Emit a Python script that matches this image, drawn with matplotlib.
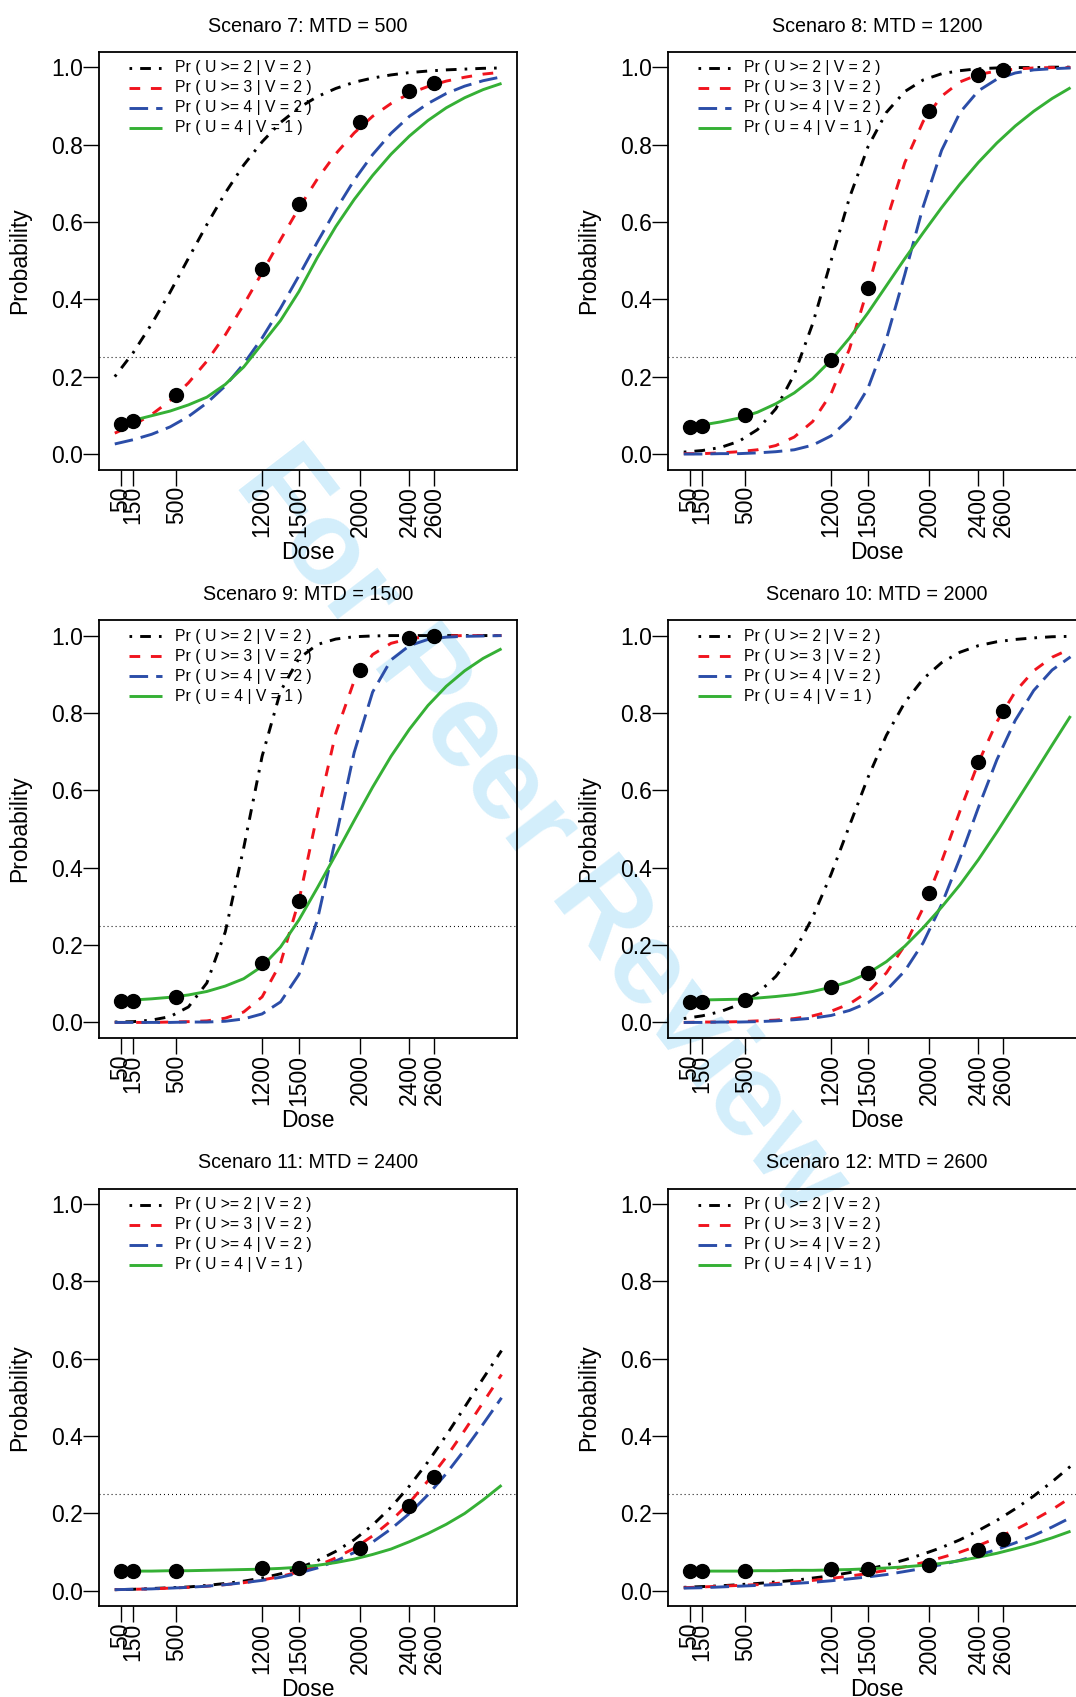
import matplotlib
matplotlib.use("Agg")
import matplotlib.pyplot as plt

plt.rcParams['font.family'] = ['Liberation Sans', 'DejaVu Sans']
plt.rcParams['lines.scale_dashes'] = False

# dose grid the curves were read on
dose_grid = [0, 150, 300, 450, 600, 750, 900, 1050, 1200, 1350, 1500,
             1650, 1800, 1950, 2100, 2250, 2400, 2550, 2700, 2850, 3000, 3150]
doses = [50, 150, 500, 1200, 1500, 2000, 2400, 2600]
dose_labels = ['50', '150', '500', '1200', '1500', '2000', '2400', '2600']

titles = ['Scenaro 7: MTD = 500', 'Scenaro 8: MTD = 1200',
          'Scenaro 9: MTD = 1500', 'Scenaro 10: MTD = 2000',
          'Scenaro 11: MTD = 2400', 'Scenaro 12: MTD = 2600']

legend_labels = ['Pr ( U >= 2 | V = 2 )', 'Pr ( U >= 3 | V = 2 )',
                 'Pr ( U >= 4 | V = 2 )', 'Pr ( U = 4 | V = 1 )']

# scenario 7
s7_u2 = [0.200, 0.262, 0.336, 0.418, 0.506, 0.593, 0.675, 0.747, 0.807, 0.857, 0.895,
         0.924, 0.945, 0.961, 0.972, 0.980, 0.986, 0.990, 0.993, 0.995, 0.997, 0.998]
s7_u3 = [0.054, 0.075, 0.102, 0.138, 0.184, 0.240, 0.308, 0.386, 0.469, 0.554, 0.636,
         0.711, 0.776, 0.830, 0.873, 0.906, 0.932, 0.950, 0.964, 0.974, 0.982, 0.987]
s7_u4 = [0.026, 0.037, 0.051, 0.070, 0.097, 0.132, 0.176, 0.233, 0.300, 0.377, 0.461,
         0.548, 0.631, 0.708, 0.774, 0.829, 0.873, 0.906, 0.932, 0.951, 0.965, 0.975]
s7_v1 = [0.072, 0.087, 0.099, 0.111, 0.127, 0.147, 0.180, 0.225, 0.285, 0.345, 0.420,
         0.508, 0.588, 0.658, 0.720, 0.775, 0.822, 0.862, 0.895, 0.921, 0.942, 0.958]
s7_pts = [0.078, 0.086, 0.152, 0.478, 0.647, 0.857, 0.939, 0.960]

# scenario 8
s8_u2 = [0.005, 0.009, 0.017, 0.033, 0.063, 0.117, 0.206, 0.337, 0.500, 0.663, 0.794,
         0.883, 0.937, 0.967, 0.983, 0.991, 0.996, 0.998, 0.999, 0.999, 1.000, 1.000]
s8_u3 = [0.001, 0.001, 0.003, 0.006, 0.011, 0.022, 0.044, 0.084, 0.156, 0.272, 0.429,
         0.602, 0.753, 0.860, 0.925, 0.962, 0.981, 0.990, 0.995, 0.998, 0.999, 0.999]
s8_u4 = [0.000, 0.000, 0.001, 0.001, 0.003, 0.006, 0.011, 0.023, 0.047, 0.091, 0.170,
         0.297, 0.464, 0.640, 0.785, 0.883, 0.939, 0.969, 0.985, 0.993, 0.996, 0.998]
s8_v1 = [0.070, 0.075, 0.083, 0.093, 0.108, 0.130, 0.158, 0.195, 0.243, 0.300, 0.365,
         0.435, 0.505, 0.572, 0.637, 0.698, 0.754, 0.804, 0.848, 0.886, 0.919, 0.947]
s8_pts = [0.069, 0.073, 0.101, 0.242, 0.429, 0.886, 0.980, 0.993]

# scenario 9
s9_u2 = [0.001, 0.002, 0.006, 0.015, 0.040, 0.102, 0.234, 0.451, 0.688, 0.856, 0.941,
         0.977, 0.991, 0.997, 0.999, 1.000, 1.000, 1.000, 1.000, 1.000, 1.000, 1.000]
s9_u3 = [0.000, 0.000, 0.000, 0.001, 0.002, 0.004, 0.011, 0.027, 0.066, 0.153, 0.315,
         0.539, 0.748, 0.883, 0.951, 0.980, 0.992, 0.997, 0.999, 1.000, 1.000, 1.000]
s9_u4 = [0.000, 0.000, 0.000, 0.000, 0.001, 0.001, 0.003, 0.009, 0.022, 0.053, 0.124,
         0.265, 0.477, 0.698, 0.854, 0.937, 0.974, 0.990, 0.996, 0.998, 0.999, 1.000]
s9_v1 = [0.056, 0.058, 0.061, 0.065, 0.071, 0.080, 0.094, 0.113, 0.145, 0.195, 0.265,
         0.348, 0.434, 0.522, 0.608, 0.688, 0.758, 0.819, 0.869, 0.909, 0.941, 0.966]
s9_pts = [0.056, 0.056, 0.067, 0.154, 0.315, 0.912, 0.993, 1.000]

# scenario 10
s10_u2 = [0.010, 0.017, 0.028, 0.046, 0.075, 0.119, 0.183, 0.272, 0.383, 0.509, 0.633,
          0.742, 0.827, 0.888, 0.930, 0.957, 0.974, 0.984, 0.990, 0.994, 0.997, 0.998]
s10_u3 = [0.000, 0.001, 0.001, 0.002, 0.004, 0.006, 0.010, 0.017, 0.029, 0.048, 0.079,
          0.128, 0.199, 0.296, 0.416, 0.547, 0.672, 0.777, 0.855, 0.909, 0.944, 0.966]
s10_u4 = [0.000, 0.000, 0.001, 0.001, 0.002, 0.004, 0.007, 0.011, 0.018, 0.031, 0.051,
          0.083, 0.133, 0.206, 0.305, 0.425, 0.556, 0.679, 0.781, 0.858, 0.911, 0.945]
s10_v1 = [0.057, 0.058, 0.059, 0.060, 0.063, 0.067, 0.072, 0.080, 0.091, 0.106, 0.127,
          0.157, 0.197, 0.245, 0.298, 0.356, 0.421, 0.492, 0.566, 0.641, 0.717, 0.792]
s10_pts = [0.053, 0.053, 0.059, 0.091, 0.127, 0.334, 0.672, 0.806]

# scenario 11
s11_u2 = [0.003, 0.004, 0.006, 0.008, 0.010, 0.014, 0.019, 0.025, 0.033, 0.044, 0.059,
          0.078, 0.102, 0.132, 0.170, 0.216, 0.271, 0.333, 0.402, 0.475, 0.549, 0.621]
s11_u3 = [0.003, 0.004, 0.005, 0.007, 0.009, 0.012, 0.016, 0.021, 0.028, 0.037, 0.049,
          0.065, 0.085, 0.110, 0.142, 0.181, 0.228, 0.284, 0.346, 0.415, 0.487, 0.559]
s11_u4 = [0.003, 0.004, 0.005, 0.007, 0.009, 0.012, 0.016, 0.021, 0.027, 0.035, 0.046,
          0.059, 0.077, 0.099, 0.126, 0.160, 0.200, 0.248, 0.303, 0.365, 0.431, 0.499]
s11_v1 = [0.051, 0.051, 0.051, 0.052, 0.052, 0.053, 0.054, 0.055, 0.056, 0.058, 0.061,
          0.066, 0.073, 0.082, 0.094, 0.108, 0.127, 0.148, 0.172, 0.200, 0.235, 0.273]
s11_pts = [0.051, 0.051, 0.051, 0.058, 0.060, 0.111, 0.219, 0.294]

# scenario 12
s12_u2 = [0.009, 0.011, 0.013, 0.016, 0.019, 0.023, 0.027, 0.033, 0.039, 0.047, 0.056,
          0.067, 0.080, 0.095, 0.112, 0.132, 0.156, 0.182, 0.212, 0.245, 0.282, 0.322]
s12_u3 = [0.008, 0.010, 0.012, 0.014, 0.016, 0.019, 0.023, 0.027, 0.032, 0.038, 0.045,
          0.053, 0.062, 0.073, 0.086, 0.100, 0.117, 0.137, 0.158, 0.183, 0.210, 0.241]
s12_u4 = [0.007, 0.008, 0.010, 0.012, 0.014, 0.016, 0.019, 0.022, 0.026, 0.031, 0.036,
          0.042, 0.050, 0.058, 0.068, 0.079, 0.092, 0.107, 0.124, 0.143, 0.165, 0.189]
s12_v1 = [0.051, 0.051, 0.051, 0.051, 0.052, 0.052, 0.053, 0.053, 0.054, 0.055, 0.057,
          0.059, 0.062, 0.066, 0.071, 0.078, 0.087, 0.097, 0.109, 0.122, 0.137, 0.154]
s12_pts = [0.051, 0.051, 0.051, 0.056, 0.057, 0.067, 0.105, 0.135]

scenarios = [
    (s7_u2, s7_u3, s7_u4, s7_v1, s7_pts),
    (s8_u2, s8_u3, s8_u4, s8_v1, s8_pts),
    (s9_u2, s9_u3, s9_u4, s9_v1, s9_pts),
    (s10_u2, s10_u3, s10_u4, s10_v1, s10_pts),
    (s11_u2, s11_u3, s11_u4, s11_v1, s11_pts),
    (s12_u2, s12_u3, s12_u4, s12_v1, s12_pts),
]

# line looks (R-like lty: dotdash, dashed, longdash, solid)
colors = ['black', '#F0141E', '#2B4DA8', '#35B035']
styles = [(0, (1.9, 5.8, 7.7, 5.8)), (0, (7.7, 7.7)), (0, (13.4, 5.8)), '-']
LW = 2.1

W, H = 1076, 1697
fig = plt.figure(figsize=(W / 100, H / 100), dpi=100)
fig.patch.set_facecolor('white')

# watermark behind everything
fig.text(540 / W, 1 - 834 / H, 'For Peer Review', rotation=-52.5,
         ha='center', va='center', fontsize=86, fontweight='bold',
         color='#D3EEFB', zorder=-5)

ax_w, ax_h = 417.7, 417.8

for i, (u2, u3, u4, v1, pts) in enumerate(scenarios):
    col, row = i % 2, i // 2
    left = 99.3 + 569.0 * col
    top = 51.7 + 568.4 * row
    ax = fig.add_axes([left / W, 1 - (top + ax_h) / H, ax_w / W, ax_h / H])
    ax.set_facecolor('none')

    for ys, c, ls in zip([u2, u3, u4, v1], colors, styles):
        ax.plot(dose_grid, ys, color=c, linestyle=ls, lw=LW,
                dash_capstyle='butt', solid_capstyle='butt', zorder=2)
    ax.axhline(0.25, color='black', lw=0.8, linestyle=(0, (0.7, 2.2)), zorder=1)
    ax.plot(doses, pts, 'o', color='black', markersize=10, zorder=3)

    ax.set_xlim(-126, 3276)
    ax.set_ylim(-0.04, 1.04)
    ax.set_xticks(doses)
    ax.set_xticklabels(dose_labels, rotation=90)
    ax.set_yticks([0.0, 0.2, 0.4, 0.6, 0.8, 1.0])
    ax.set_yticklabels(['0.0', '0.2', '0.4', '0.6', '0.8', '1.0'])
    ax.tick_params(length=11.5, width=1.0, pad=0.5, labelsize=16.5)
    for sp in ax.spines.values():
        sp.set_linewidth(1.3)

    ax.text(0.5, 1 + 25.5 / ax_h, titles[i], transform=ax.transAxes,
            ha='center', va='center', fontsize=14.2)
    ax.text(-80 / ax_w, 0.5, 'Probability', transform=ax.transAxes,
            rotation=90, ha='center', va='center', fontsize=16.5)
    ax.text(0.5, -83 / ax_h, 'Dose', transform=ax.transAxes,
            ha='center', va='center', fontsize=16.5)

    # legend without box, drawn by hand
    x0, x1, xt = 30 / ax_w, 62.4 / ax_w, 75.7 / ax_w
    for k in range(4):
        yk = 1 - (16 + 20 * k) / ax_h
        ax.plot([x0, x1], [yk, yk], transform=ax.transAxes, color=colors[k],
                linestyle=styles[k], lw=LW, dash_capstyle='butt',
                solid_capstyle='butt', clip_on=False)
        ax.text(xt, yk, legend_labels[k], transform=ax.transAxes,
                ha='left', va='center', fontsize=11.3)

fig.savefig('out.png', dpi=100)
